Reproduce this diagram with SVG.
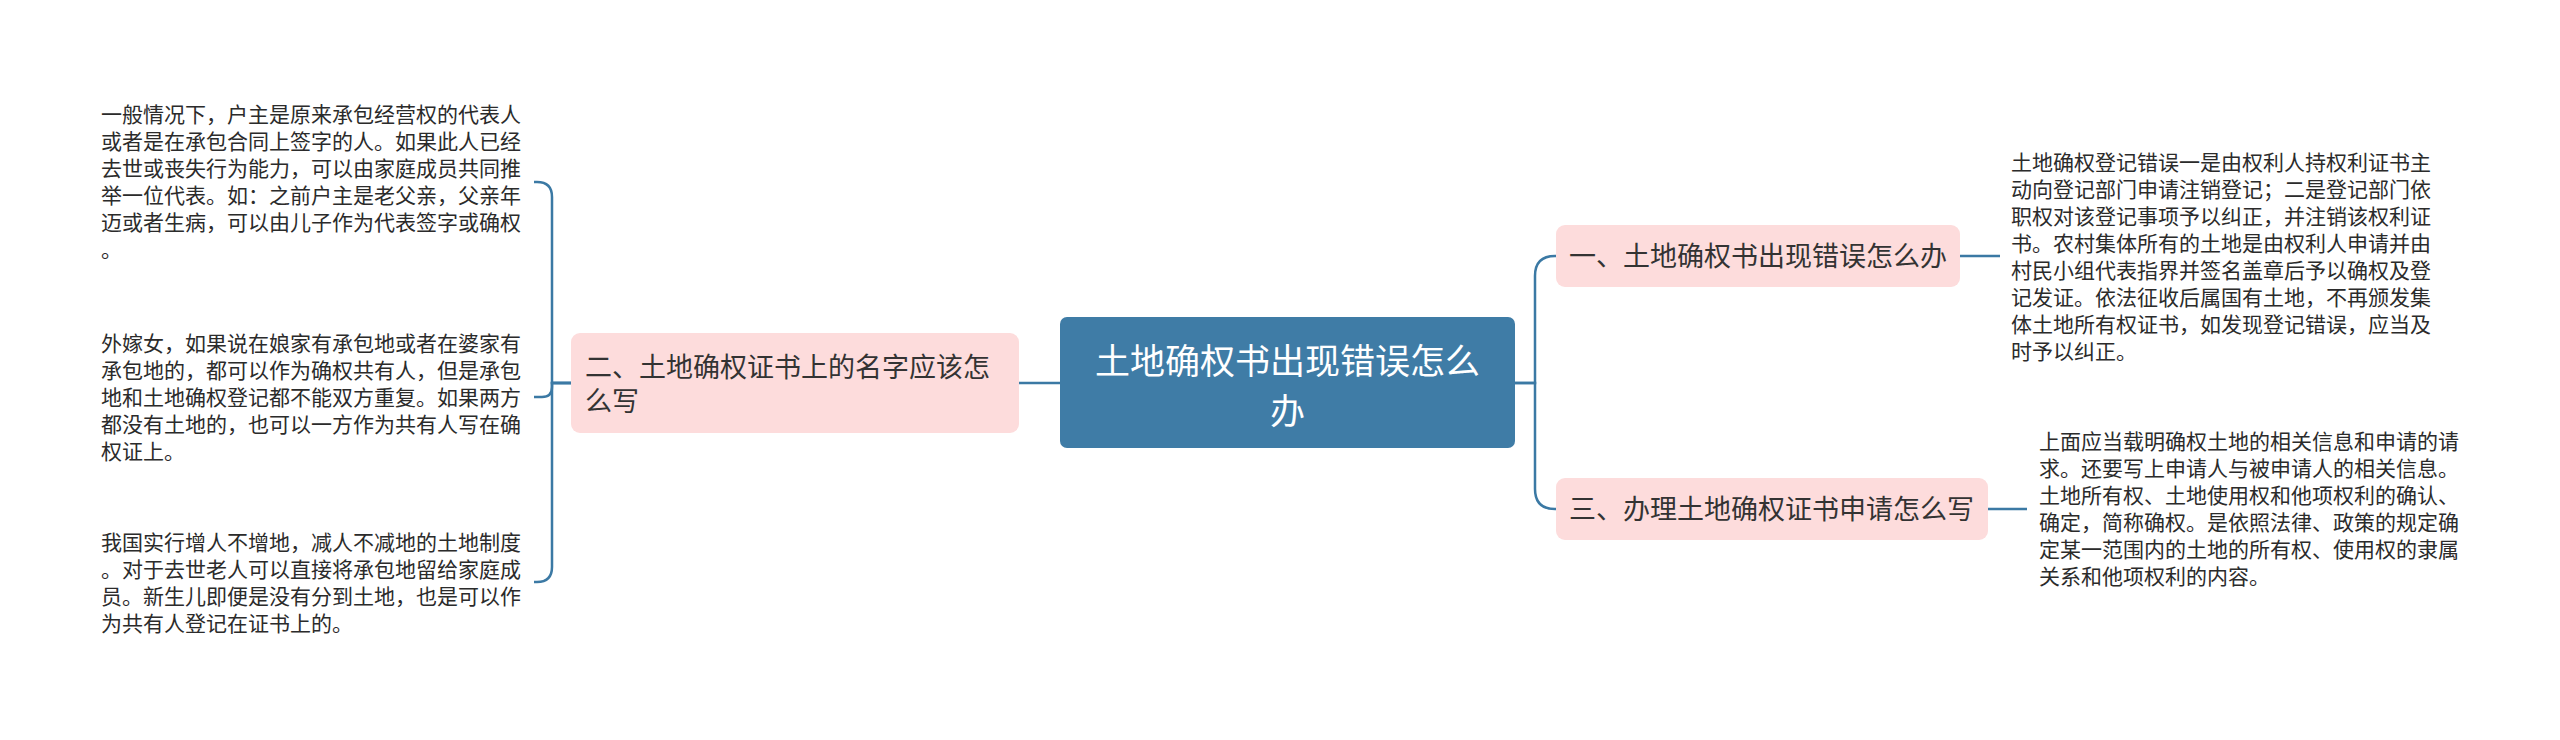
<svg xmlns="http://www.w3.org/2000/svg" width="2560" height="740" viewBox="0 0 2560 740">
<style>
text{font-family:"Noto Sans CJK SC","Noto Sans",sans-serif;}
.root{fill:#3f7ca6;}
.sub{fill:#fddcdc;}
.rt{fill:#ffffff;font-size:35px;text-anchor:middle;}
.st{fill:#333333;font-size:27px;}
.lt{fill:#2b2b2b;font-size:21px;}
.edge{fill:none;stroke:#3b79a4;stroke-width:2.5;}
</style>
<rect width="2560" height="740" fill="#ffffff"/>
<g id="connectors">
<path class="edge" d="M1060,383 H1019"/>
<path class="edge" d="M571,383 H552 V197 Q552,182 537,182 H534"/>
<path class="edge" d="M571,383 H552 V387 Q552,397 542,397 H534"/>
<path class="edge" d="M571,383 H552 V567 Q552,582 537,582 H534"/>
<path class="edge" d="M1515,383 H1535 V276 Q1535,256 1555,256 H1556"/>
<path class="edge" d="M1515,383 H1535 V489 Q1535,509 1555,509 H1556"/>
<path class="edge" d="M1960,256 H2000"/>
<path class="edge" d="M1988,509 H2027"/>
</g>
<g id="root">
<rect class="root" x="1060" y="317" width="455" height="131" rx="7"/>
<text class="rt" x="1287.5" y="374">土地确权书出现错误怎么</text>
<text class="rt" x="1287.5" y="424">办</text>
</g>
<g id="node-left">
<rect class="sub" x="571" y="333" width="448" height="100" rx="9"/>
<text class="st" x="585" y="377">二、土地确权证书上的名字应该怎</text>
<text class="st" x="585" y="411">么写</text>
</g>
<g id="node-r1">
<rect class="sub" x="1556" y="225" width="404" height="62" rx="9"/>
<text class="st" x="1569" y="266">一、土地确权书出现错误怎么办</text>
</g>
<g id="node-r2">
<rect class="sub" x="1556" y="478" width="432" height="62" rx="9"/>
<text class="st" x="1569" y="519">三、办理土地确权证书申请怎么写</text>
</g>
<g id="leaf-a">
<text class="lt" x="101" y="122">一般情况下，户主是原来承包经营权的代表人</text>
<text class="lt" x="101" y="149">或者是在承包合同上签字的人。如果此人已经</text>
<text class="lt" x="101" y="176">去世或丧失行为能力，可以由家庭成员共同推</text>
<text class="lt" x="101" y="203">举一位代表。如：之前户主是老父亲，父亲年</text>
<text class="lt" x="101" y="230">迈或者生病，可以由儿子作为代表签字或确权</text>
<text class="lt" x="101" y="257">。</text>
</g>
<g id="leaf-b">
<text class="lt" x="101" y="351">外嫁女，如果说在娘家有承包地或者在婆家有</text>
<text class="lt" x="101" y="378">承包地的，都可以作为确权共有人，但是承包</text>
<text class="lt" x="101" y="405">地和土地确权登记都不能双方重复。如果两方</text>
<text class="lt" x="101" y="432">都没有土地的，也可以一方作为共有人写在确</text>
<text class="lt" x="101" y="459">权证上。</text>
</g>
<g id="leaf-c">
<text class="lt" x="101" y="550">我国实行增人不增地，减人不减地的土地制度</text>
<text class="lt" x="101" y="577">。对于去世老人可以直接将承包地留给家庭成</text>
<text class="lt" x="101" y="604">员。新生儿即便是没有分到土地，也是可以作</text>
<text class="lt" x="101" y="631">为共有人登记在证书上的。</text>
</g>
<g id="leaf-r1">
<text class="lt" x="2011" y="170">土地确权登记错误一是由权利人持权利证书主</text>
<text class="lt" x="2011" y="197">动向登记部门申请注销登记；二是登记部门依</text>
<text class="lt" x="2011" y="224">职权对该登记事项予以纠正，并注销该权利证</text>
<text class="lt" x="2011" y="251">书。农村集体所有的土地是由权利人申请并由</text>
<text class="lt" x="2011" y="278">村民小组代表指界并签名盖章后予以确权及登</text>
<text class="lt" x="2011" y="305">记发证。依法征收后属国有土地，不再颁发集</text>
<text class="lt" x="2011" y="332">体土地所有权证书，如发现登记错误，应当及</text>
<text class="lt" x="2011" y="359">时予以纠正。</text>
</g>
<g id="leaf-r2">
<text class="lt" x="2039" y="449">上面应当载明确权土地的相关信息和申请的请</text>
<text class="lt" x="2039" y="476">求。还要写上申请人与被申请人的相关信息。</text>
<text class="lt" x="2039" y="503">土地所有权、土地使用权和他项权利的确认、</text>
<text class="lt" x="2039" y="530">确定，简称确权。是依照法律、政策的规定确</text>
<text class="lt" x="2039" y="557">定某一范围内的土地的所有权、使用权的隶属</text>
<text class="lt" x="2039" y="584">关系和他项权利的内容。</text>
</g>
</svg>
